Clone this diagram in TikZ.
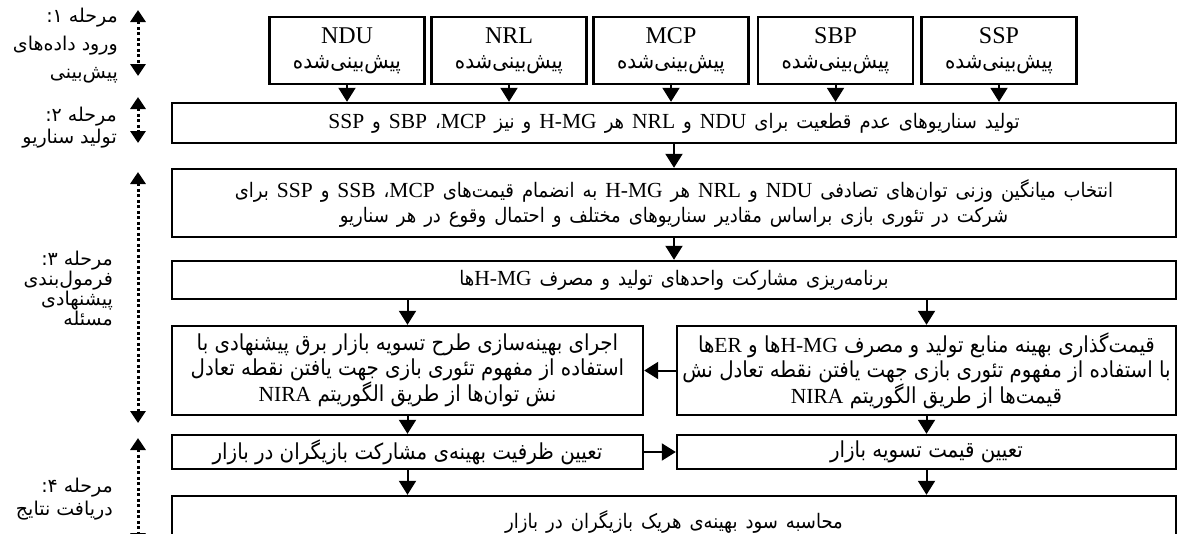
\documentclass[tikz,border=0pt]{standalone}
\usepackage{fontspec}
\usetikzlibrary{arrows.meta}
\TeXXeTstate=1
\newfontfamily\fa[Script=Arabic]{DejaVu Sans}
\newfontfamily\fab[Script=Arabic]{DejaVu Sans Condensed}
\newfontfamily\lat{Liberation Serif}
\newcommand\rl[1]{\beginR #1\endR}
\newcommand\en[1]{\beginL{\lat\fontsize{21.5}{25}\selectfont #1}\endL}
\newcommand\bxfont{\fab\fontsize{22}{25}\selectfont}
\newcommand\wbfont{\fab\fontsize{20}{25}\selectfont\spaceskip=8pt plus 1pt\relax}
\newcommand\topfont{\lat\fontsize{24}{26}\selectfont}
\begin{document}
\begin{tikzpicture}[x=1pt,y=-1pt,
  box/.style={draw, line width=2.4pt, inner sep=0pt, align=center, font=\bxfont},
  topbox/.style={box, minimum width=155pt, minimum height=67pt},
  widebox/.style={box, minimum width=1004pt, font=\wbfont},
  leftbox/.style={box, minimum width=471pt},
  rightbox/.style={box, minimum width=499pt},
  arr/.style={line width=2pt, -{Triangle[width=17pt,length=14pt]}},
  stagearr/.style={line width=3pt, dash pattern=on 3pt off 2.5pt,
     {Triangle[width=15pt,length=12pt]}-{Triangle[width=15pt,length=12pt]}},
  lab/.style={anchor=east, align=right, inner sep=0pt}
]
\useasboundingbox (0,0) rectangle (1178,533);

% top row
\node[topbox] (ndu) at (347,50.5) {{\topfont NDU}\\\rl{پیش‌بینی‌شده}};
\node[topbox] (nrl) at (509,50.5) {{\topfont NRL}\\\rl{پیش‌بینی‌شده}};
\node[topbox] (mcp) at (671,50.5) {{\topfont MCP}\\\rl{پیش‌بینی‌شده}};
\node[topbox] (sbp) at (835.5,50.5) {{\topfont SBP}\\\rl{پیش‌بینی‌شده}};
\node[topbox] (ssp) at (999,50.5) {{\topfont SSP}\\\rl{پیش‌بینی‌شده}};

% stage 2
\node[widebox, minimum height=40pt] (s2) at (674,123)
  {\rl{تولید سناریوهای عدم قطعیت برای \en{NDU} و \en{NRL} هر \en{H-MG} و نیز \en{MCP}، \en{SBP} و \en{SSP}}};

% stage 3
\node[widebox, minimum height=68pt] (s3a) at (674,203)
  {\rl{انتخاب میانگین وزنی توان‌های تصادفی \en{NDU} و \en{NRL} هر \en{H-MG} به انضمام قیمت‌های \en{MCP}، \en{SSB} و \en{SSP} برای}\\
   \rl{شرکت در تئوری بازی براساس مقادیر سناریوهای مختلف و احتمال وقوع در هر سناریو}};
\node[widebox, minimum height=38pt] (s3b) at (674,280)
  {\rl{برنامه‌ریزی مشارکت واحدهای تولید و مصرف \en{H-MG}ها}};
\node[leftbox, minimum height=89pt] (L) at (407.5,370.5)
  {\rl{اجرای بهینه‌سازی طرح تسویه بازار برق پیشنهادی با}\\
   \rl{استفاده از مفهوم تئوری بازی جهت یافتن نقطه تعادل}\\
   \rl{نش توان‌ها از طریق الگوریتم \en{NIRA}}};
\node[rightbox, minimum height=89pt] (R) at (926.5,370.5)
  {\rl{قیمت‌گذاری بهینه منابع تولید و مصرف \en{H-MG}ها و \en{ER}ها}\\
   \rl{با استفاده از مفهوم تئوری بازی جهت یافتن نقطه تعادل نش}\\
   \rl{قیمت‌ها از طریق الگوریتم \en{NIRA}}};

% stage 4
\node[leftbox, minimum height=34pt] (L2) at (407.5,452)
  {\rl{تعیین ظرفیت بهینه‌ی مشارکت بازیگران در بازار}};
\node[rightbox, minimum height=34pt] (R2) at (926.5,452)
  {\rl{تعیین قیمت تسویه بازار}};
\node[widebox, minimum height=64pt, text depth=0pt] (F) at (674,528)
  {\raisebox{16pt}{\rl{محاسبه سود بهینه‌ی هریک بازیگران در بازار}}};

% connectors
\foreach \n in {ndu,nrl,mcp,sbp,ssp}
  \draw[arr] (\n.south) -- (\n.south |- s2.north);
\draw[arr] (s2.south) -- (s3a.north);
\draw[arr] (s3a.south) -- (s3b.north);
\draw[arr] (L.north |- s3b.south) -- (L.north);
\draw[arr] (R.north |- s3b.south) -- (R.north);
\draw[arr] (R.west) -- (L.east);
\draw[arr] (L.south) -- (L2.north);
\draw[arr] (R.south) -- (R2.north);
\draw[arr] (L2.east) -- (R2.west);
\draw[arr] (L2.south) -- (L2.south |- F.north);
\draw[arr] (R2.south) -- (R2.south |- F.north);

% stage markers
\coordinate (m1t) at (138,10);  \coordinate (m1b) at (138,76);
\coordinate (m2t) at (138,97);  \coordinate (m2b) at (138,143);
\coordinate (m3t) at (138,172); \coordinate (m3b) at (138,423);
\coordinate (m4t) at (138,438); \coordinate (m4b) at (138,545);
\draw[stagearr] (m1t) -- (m1b);
\draw[stagearr] (m2t) -- (m2b);
\draw[stagearr] (m3t) -- (m3b);
\draw[stagearr] (m4t) -- (m4b);

\node[lab, font=\fa\fontsize{19}{28}\selectfont] (l1) at (118,46)
  {\rl{مرحله ۱:}\\\rl{ورود داده‌های}\\\rl{پیش‌بینی}};
\node[lab, font=\fa\fontsize{19}{22}\selectfont] (l2) at (117,128)
  {\rl{مرحله ۲:}\\\rl{تولید سناریو}};
\node[lab, font=\fa\fontsize{19}{19}\selectfont] (l3) at (113,288.5)
  {\rl{مرحله ۳:}\\\rl{فرمول‌بندی}\\\rl{پیشنهادی}\\\rl{مسئله}};
\node[lab, font=\fa\fontsize{19}{23}\selectfont] (l4) at (113,499)
  {\rl{مرحله ۴:}\\\rl{دریافت نتایج}};
\end{tikzpicture}
\end{document}
